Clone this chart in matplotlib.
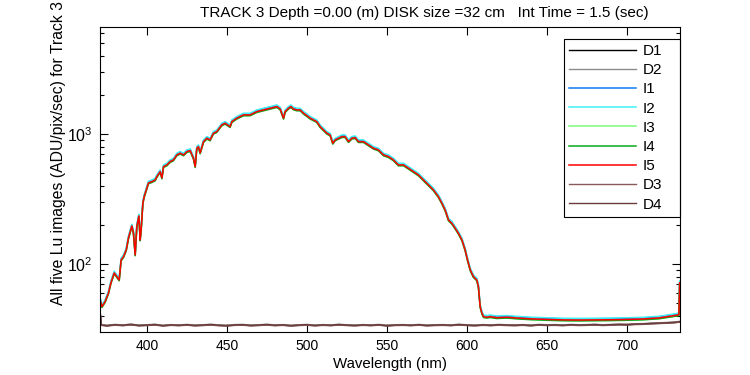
import matplotlib
matplotlib.use("Agg")
import matplotlib.pyplot as plt
import numpy as np
from matplotlib.ticker import FixedLocator, LogLocator, NullFormatter

plt.rcParams['font.family'] = ['Liberation Sans', 'DejaVu Sans']
plt.rcParams['mathtext.fontset'] = 'custom'
plt.rcParams['mathtext.rm'] = 'Liberation Sans'
plt.rcParams['mathtext.it'] = 'Liberation Sans'

# ---- data ----
wavelength_I = [370.8, 371.9, 373.9, 376.0, 377.5, 379.6, 381.2, 382.7, 383.9, 385.4,
                387.1, 388.5, 389.6, 390.6, 391.6, 392.7, 393.7, 395.0, 395.8, 396.4,
                397.5, 398.3, 400.0, 401.0, 403.1, 405.2, 406.2, 408.3, 409.4, 410.4,
                412.5, 414.5, 416.6, 418.7, 420.8, 422.9, 425.0, 427.1, 429.1, 430.2,
                431.2, 432.2, 433.3, 435.4, 437.5, 439.5, 441.6, 443.7, 446.8, 448.9,
                452.0, 453.1, 456.2, 460.4, 464.5, 468.7, 472.9, 477.1, 481.2, 483.3,
                485.4, 486.4, 488.5, 490.0, 491.6, 493.7, 495.8, 497.9, 500.0, 502.1,
                504.1, 506.2, 508.3, 510.4, 512.5, 514.5, 516.2, 517.7, 519.8, 521.9,
                523.9, 526.0, 528.1, 530.2, 532.2, 535.4, 538.5, 541.6, 544.7, 547.9,
                551.0, 554.1, 557.2, 560.4, 563.5, 566.6, 569.7, 572.9, 576.0, 579.1,
                582.2, 584.4, 586.4, 588.5, 590.6, 592.7, 594.7, 596.9, 598.9, 600.4,
                602.1, 604.1, 606.2, 607.2, 608.3, 609.4, 610.4, 612.5, 614.6, 618.7,
                625.0, 633.3, 640, 650, 660, 670, 680, 690, 700, 710,
                720, 727, 731, 732.5, 733]

I5 = [53.1, 47.2, 51.6, 60.1, 71.8, 85.7, 80.3, 75.7, 107.9, 114.4,
      128.8, 159.3, 178.2, 197.1, 174.1, 117.9, 194.6, 235.3, 153.8, 183.5,
      296.1, 331.1, 386.3, 422.0, 431.8, 445.0, 471.8, 515.6, 461.1, 563.4,
      580.5, 615.5, 634.3, 693.0, 714.2, 693.0, 734.9, 747.9, 653.9, 563.4,
      780.4, 802.8, 718.2, 877.3, 931.7, 904.2, 1018, 1047, 1179, 1215,
      1144, 1250, 1328, 1408, 1408, 1492, 1538, 1585, 1631, 1565,
      1328, 1492, 1585, 1631, 1565, 1538, 1538, 1451, 1390, 1328,
      1288, 1250, 1144, 1079, 1018, 987.7, 852.7, 904.2, 931.7, 958.4,
      958.4, 877.3, 931.7, 941.5, 877.3, 877.3, 827.4, 780.4, 757.3, 693.0,
      672.4, 634.3, 580.5, 580.5, 547.6, 515.6, 486.3, 445.0, 407.4, 372.9,
      331.1, 294.5, 261.7, 219.2, 206.8, 189.2, 173.2, 153.8, 128.8, 107.9,
      90.4, 80.3, 75.7, 67.3, 47.2, 42.0, 39.5, 39.1, 39.5, 38.8,
      39.1, 38.4, 38.0, 37.6, 37.3, 37.2, 37.3, 37.4, 37.6, 37.9,
      38.6, 39.8, 40.5, 41.0, 72.0]

# relative level of each image versus I5
I_level = {'I1': 1.02, 'I2': 1.03, 'I3': 0.99, 'I4': 0.985, 'I5': 1.0}

wavelength_D = [370.8, 371.6] + list(range(375, 731, 5)) + [733]
D_base = [42.5, 34.0,
          33.6, 34.1, 33.8, 34.3, 33.7, 33.9, 34.2, 33.6, 34.0, 33.8,
          34.1, 33.7, 33.9, 34.2, 33.8, 33.6, 34.0, 34.1, 33.7, 33.9,
          34.2, 33.8, 34.0, 33.6, 33.9, 34.1, 33.7, 34.0, 33.8, 34.2,
          33.9, 33.7, 34.0, 33.8, 34.1, 33.6, 33.9, 34.0, 33.8, 34.1,
          33.7, 33.9, 34.0, 33.8, 34.2, 33.9, 33.7, 34.0, 33.8, 34.1,
          33.9, 33.8, 34.0, 33.7, 34.1, 33.9, 34.0, 33.8, 34.1, 33.9,
          34.0, 34.2, 33.9, 34.1, 34.3, 34.2, 34.5, 34.6, 34.9, 35.1,
          35.3, 35.6,
          36.0]
D_level = {'D1': 1.0, 'D2': 1.01, 'D3': 0.995, 'D4': 1.005}

series_order = ['D1', 'D2', 'I1', 'I2', 'I3', 'I4', 'I5', 'D3', 'D4']
colors = {'D1': '#000000', 'D2': '#8c8c8c', 'I1': '#0a7cf0', 'I2': '#3ff0f5',
          'I3': '#7dfa7d', 'I4': '#0aaa1e', 'I5': '#ff0000', 'D3': '#8a5a5a',
          'D4': '#6a3c3c'}

title = "TRACK 3 Depth =0.00 (m) DISK size =32 cm   Int Time = 1.5 (sec)"
xlabel = "Wavelength (nm)"
ylabel = "All five Lu images (ADU/pix/sec) for Track 3"
xticks = [400, 450, 500, 550, 600, 650, 700]

# ---- figure ----
W, H = 750, 375
fig = plt.figure(figsize=(7.5, 3.75), dpi=100)
ax = fig.add_axes([100 / W, 1 - 332 / H, 580 / W, 305 / H])

wI = np.array(wavelength_I)
wD = np.array(wavelength_D)
for name in series_order:
    if name.startswith('I'):
        y = np.array(I5) * I_level[name]
        ax.plot(wI, y, color=colors[name], lw=1.1, label=name)
    else:
        y = np.array(D_base) * D_level[name]
        ax.plot(wD, y, color=colors[name], lw=1.0, label=name)

ax.set_yscale('log')
ax.set_xlim(370.7, 733.2)
ax.set_ylim(30.1, 6680)
ax.xaxis.set_major_locator(FixedLocator(xticks))
ax.yaxis.set_major_locator(LogLocator(base=10, numticks=10))
ax.yaxis.set_minor_locator(LogLocator(base=10, subs=np.arange(2, 10), numticks=20))
ax.yaxis.set_minor_formatter(NullFormatter())
ax.tick_params(which='both', direction='in', top=True, right=True, labelsize=10,
               colors='black')
ax.tick_params(axis='y', which='major', labelsize=11.5, pad=5)
ax.tick_params(axis='x', which='major', pad=5)
ax.tick_params(which='major', length=6, width=0.8)
ax.tick_params(which='minor', length=3, width=0.8)
for s in ax.spines.values():
    s.set_linewidth(0.8)

ax.set_xlabel(xlabel, fontsize=10.8, labelpad=3)
fig.text(58 / W, 1 - 305 / H, ylabel, rotation=90, ha='center', va='bottom',
         fontsize=11.3)
fig.text(424 / W, 1 - 13 / H, title, ha='center', va='center', fontsize=11)

leg = ax.legend(loc='upper right', bbox_to_anchor=(0.8, 0.0, 0.2, 1 - 12 / 305),
                mode='expand', borderaxespad=0, fontsize=11, handlelength=4.4,
                handletextpad=0.4, labelspacing=0.34, borderpad=0.33,
                fancybox=False, framealpha=1, edgecolor='black')
leg.get_frame().set_linewidth(0.8)
leg.set_zorder(2.4)

fig.savefig('out.png', dpi=100)
